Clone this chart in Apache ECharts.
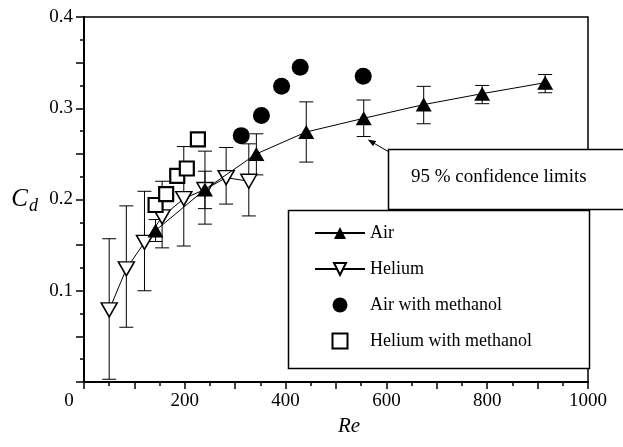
<!DOCTYPE html>
<html>
<head>
<meta charset="utf-8">
<script src="https://cdn.jsdelivr.net/npm/echarts@6/dist/echarts.min.js"></script>
<style>
  html, body { margin: 0; padding: 0; background: #fff; }
  #chart { width: 623px; height: 447px; }
</style>
</head>
<body>
<div id="chart"></div>
<script>
// Air
var airRe = [142, 240, 342, 441, 555, 674, 790, 915];
var airCd = [0.166, 0.211, 0.250, 0.274, 0.289, 0.304, 0.316, 0.328];
var airLow = [0.154, 0.190, 0.227, 0.241, 0.269, 0.283, 0.305, 0.317];
var airHigh = [0.178, 0.231, 0.272, 0.307, 0.309, 0.324, 0.325, 0.337];

// Helium
var heRe = [50, 84, 120, 155, 198, 240, 282, 327];
var heCd = [0.079, 0.124, 0.153, 0.181, 0.201, 0.211, 0.224, 0.220];
var heLow = [0.003, 0.060, 0.100, 0.147, 0.149, 0.173, 0.195, 0.182];
var heHigh = [0.157, 0.193, 0.209, 0.220, 0.258, 0.253, 0.257, 0.261];

// with methanol
var airMethRe = [312, 352, 392, 429, 554];
var airMethCd = [0.270, 0.292, 0.324, 0.345, 0.335];
var heMethRe = [142, 163, 185, 204, 226];
var heMethCd = [0.194, 0.206, 0.226, 0.234, 0.266];

var seriesNames = ['Air', 'Helium', 'Air with methanol', 'Helium with methanol'];
var noteText = '95 % confidence limits';

var font = 'Liberation Serif';
var downTri = 'path://M0,0 L10,0 L5,8.7 Z';
var square = 'path://M0,0 L10,0 L10,10 L0,10 Z';

function pairs(xs, ys) {
  return xs.map(function(x, i) { return [x, ys[i]]; });
}
function triples(xs, lo, hi) {
  return xs.map(function(x, i) { return [x, lo[i], hi[i]]; });
}

function errRender(params, api) {
  var x = api.value(0);
  var p1 = api.coord([x, api.value(1)]);
  var p2 = api.coord([x, api.value(2)]);
  var w = 7;
  var st = { stroke: '#000', lineWidth: 1 };
  return {
    type: 'group',
    children: [
      { type: 'line', shape: { x1: p1[0], y1: p1[1], x2: p2[0], y2: p2[1] }, style: st },
      { type: 'line', shape: { x1: p1[0] - w, y1: p1[1], x2: p1[0] + w, y2: p1[1] }, style: st },
      { type: 'line', shape: { x1: p2[0] - w, y1: p2[1], x2: p2[0] + w, y2: p2[1] }, style: st }
    ]
  };
}

var chart = echarts.init(document.getElementById('chart'), null, { renderer: 'canvas' });

var option = {
  animation: false,
  backgroundColor: '#fff',
  textStyle: { fontFamily: font, color: '#000' },
  grid: {
    left: 84, right: 35, top: 17, bottom: 65,
    show: true, borderColor: '#000', borderWidth: 1.5, backgroundColor: 'transparent'
  },
  xAxis: {
    type: 'value', min: 0, max: 1000, interval: 100,
    name: 'Re', nameLocation: 'middle', nameGap: 34,
    nameTextStyle: { fontFamily: font, fontStyle: 'italic', fontSize: 21, color: '#000', padding: [0, 0, 0, 26] },
    axisLine: { onZero: false, lineStyle: { color: '#000', width: 2 } },
    axisTick: { length: 7, lineStyle: { color: '#000', width: 1.5 } },
    minorTick: { show: true, splitNumber: 2, length: 4, lineStyle: { color: '#000', width: 1.5 } },
    splitLine: { show: false },
    axisLabel: {
      fontFamily: font, fontSize: 19, color: '#000', margin: 10,
      formatter: function(v) {
        if (v === 0) return '{z|0}';
        return v % 200 === 0 ? String(v) : '';
      },
      rich: { z: { fontFamily: font, fontSize: 19, color: '#000', padding: [0, 30, 0, 0] } }
    }
  },
  yAxis: {
    type: 'value', min: 0, max: 0.4, interval: 0.05,
    name: '{c|C}{d|d}', nameLocation: 'middle', nameGap: 46, nameRotate: 0,
    nameTextStyle: {
      rich: {
        c: { fontFamily: font, fontStyle: 'italic', fontSize: 25, color: '#000' },
        d: { fontFamily: font, fontStyle: 'italic', fontSize: 18, color: '#000', padding: [14, 0, 0, 1] }
      }
    },
    axisLine: { onZero: false, lineStyle: { color: '#000', width: 2 } },
    axisTick: { length: 8, lineStyle: { color: '#000', width: 1.5 } },
    minorTick: { show: true, splitNumber: 2, length: 4, lineStyle: { color: '#000', width: 1.5 } },
    splitLine: { show: false },
    axisLabel: {
      fontFamily: font, fontSize: 19, color: '#000', margin: 11,
      formatter: function(v) {
        var k = Math.round(v * 100);
        return (k > 0 && k % 10 === 0) ? v.toFixed(1) : '';
      }
    }
  },
  legend: {
    data: seriesNames,
    orient: 'vertical', left: 309, top: 219,
    itemWidth: 50, itemHeight: 15, itemGap: 18,
    textStyle: { fontFamily: font, fontSize: 18, color: '#000' },
    selectedMode: false
  },
  series: [
    {
      name: 'airErr', type: 'custom', renderItem: errRender, z: 1,
      encode: { x: 0, y: [1, 2] }, data: triples(airRe, airLow, airHigh)
    },
    {
      name: 'heErr', type: 'custom', renderItem: errRender, z: 1,
      encode: { x: 0, y: [1, 2] }, data: triples(heRe, heLow, heHigh)
    },
    {
      name: 'Helium', type: 'line', z: 3,
      data: pairs(heRe, heCd),
      symbol: downTri, symbolSize: [16, 14],
      lineStyle: { color: '#000', width: 1 },
      itemStyle: { color: '#fff', borderColor: '#000', borderWidth: 1.5 }
    },
    {
      name: 'Air', type: 'line', z: 4,
      data: pairs(airRe, airCd),
      symbol: 'triangle', symbolSize: [16, 14],
      lineStyle: { color: '#000', width: 1 },
      itemStyle: { color: '#000', borderColor: '#000', borderWidth: 0 }
    },
    {
      name: 'Air with methanol', type: 'scatter', z: 4,
      data: pairs(airMethRe, airMethCd),
      symbol: 'circle', symbolSize: 17,
      itemStyle: { color: '#000', opacity: 1 }
    },
    {
      name: 'Helium with methanol', type: 'scatter', z: 4,
      data: pairs(heMethRe, heMethCd),
      symbol: square, symbolSize: 14, symbolKeepAspect: true,
      itemStyle: { color: '#fff', borderColor: '#000', borderWidth: 2.2, opacity: 1 }
    }
  ]
};
chart.setOption(option);

// legend frame and annotation box
var tip = chart.convertToPixel({ gridIndex: 0 }, [airRe[4], airLow[4]]);
var tail = [389, 152];
var head = [tip[0] + 4, tip[1] + 3];
var ang = Math.atan2(head[1] - tail[1], head[0] - tail[0]);
var al = 8, aw = 3;
var bx = head[0] - al * Math.cos(ang), by = head[1] - al * Math.sin(ang);
var px = -Math.sin(ang) * aw, py = Math.cos(ang) * aw;

chart.setOption({
  graphic: [
    {
      type: 'rect', z: 0,
      shape: { x: 288.5, y: 210.5, width: 301, height: 158 },
      style: { fill: '#fff', stroke: '#000', lineWidth: 1.5 }
    },
    {
      type: 'rect', z: 100,
      shape: { x: 388.5, y: 149.5, width: 260, height: 60 },
      style: { fill: '#fff', stroke: '#000', lineWidth: 1.5 }
    },
    {
      type: 'text', z: 101, x: 411, y: 177,
      style: { text: noteText, font: '19px "Liberation Serif"', fill: '#000', verticalAlign: 'middle' }
    },
    {
      type: 'line', z: 101,
      shape: { x1: tail[0], y1: tail[1], x2: bx, y2: by },
      style: { stroke: '#000', lineWidth: 1 }
    },
    {
      type: 'polygon', z: 101,
      shape: { points: [head, [bx + px, by + py], [bx - px, by - py]] },
      style: { fill: '#000' }
    }
  ]
});
</script>
</body>
</html>
